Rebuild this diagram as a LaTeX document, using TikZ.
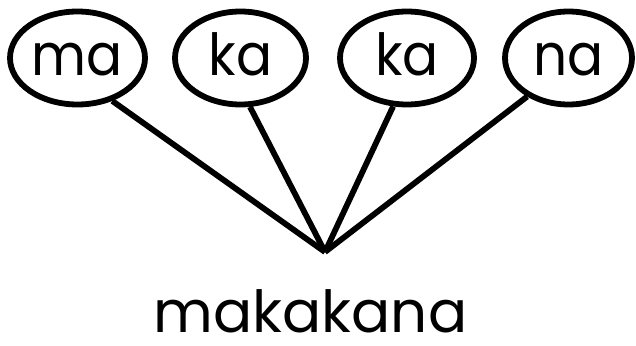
\documentclass[tikz,border=0pt]{standalone}
\usepackage{fontspec}
\setmainfont{Poppins}
\usetikzlibrary{shapes.geometric}
\begin{document}
\begin{tikzpicture}[x=1pt,y=-1pt,
  syl/.style={draw, ellipse, line width=5.8pt, inner sep=0pt,
    minimum height=93pt, text height=34pt, text depth=0pt,
    font=\fontsize{58}{58}\selectfont},
  link/.style={line width=5.8pt}]
\useasboundingbox (0,0) rectangle (636,345);
\node[syl, minimum width=135pt] (s1) at (77.5,58) {\scalebox{0.92}[1]{ma}};
\node[syl, minimum width=131pt] (s2) at (240.5,58) {\scalebox{0.92}[1]{ka}};
\node[syl, minimum width=134pt] (s3) at (407,58) {\scalebox{0.92}[1]{ka}};
\node[syl, minimum width=127pt] (s4) at (568.5,58) {\scalebox{0.92}[1]{na}};
\coordinate (root) at (325,252);
\node[anchor=base, inner sep=0pt, font=\fontsize{58}{58}\selectfont] (word) at (310.5,332) {makakana};
\draw[link] (s1.-51) -- (root);
\draw[link] (s2.-79) -- (root);
\draw[link] (s3.-106) -- (root);
\draw[link] (s4.-137) -- (root);
\end{tikzpicture}
\end{document}
